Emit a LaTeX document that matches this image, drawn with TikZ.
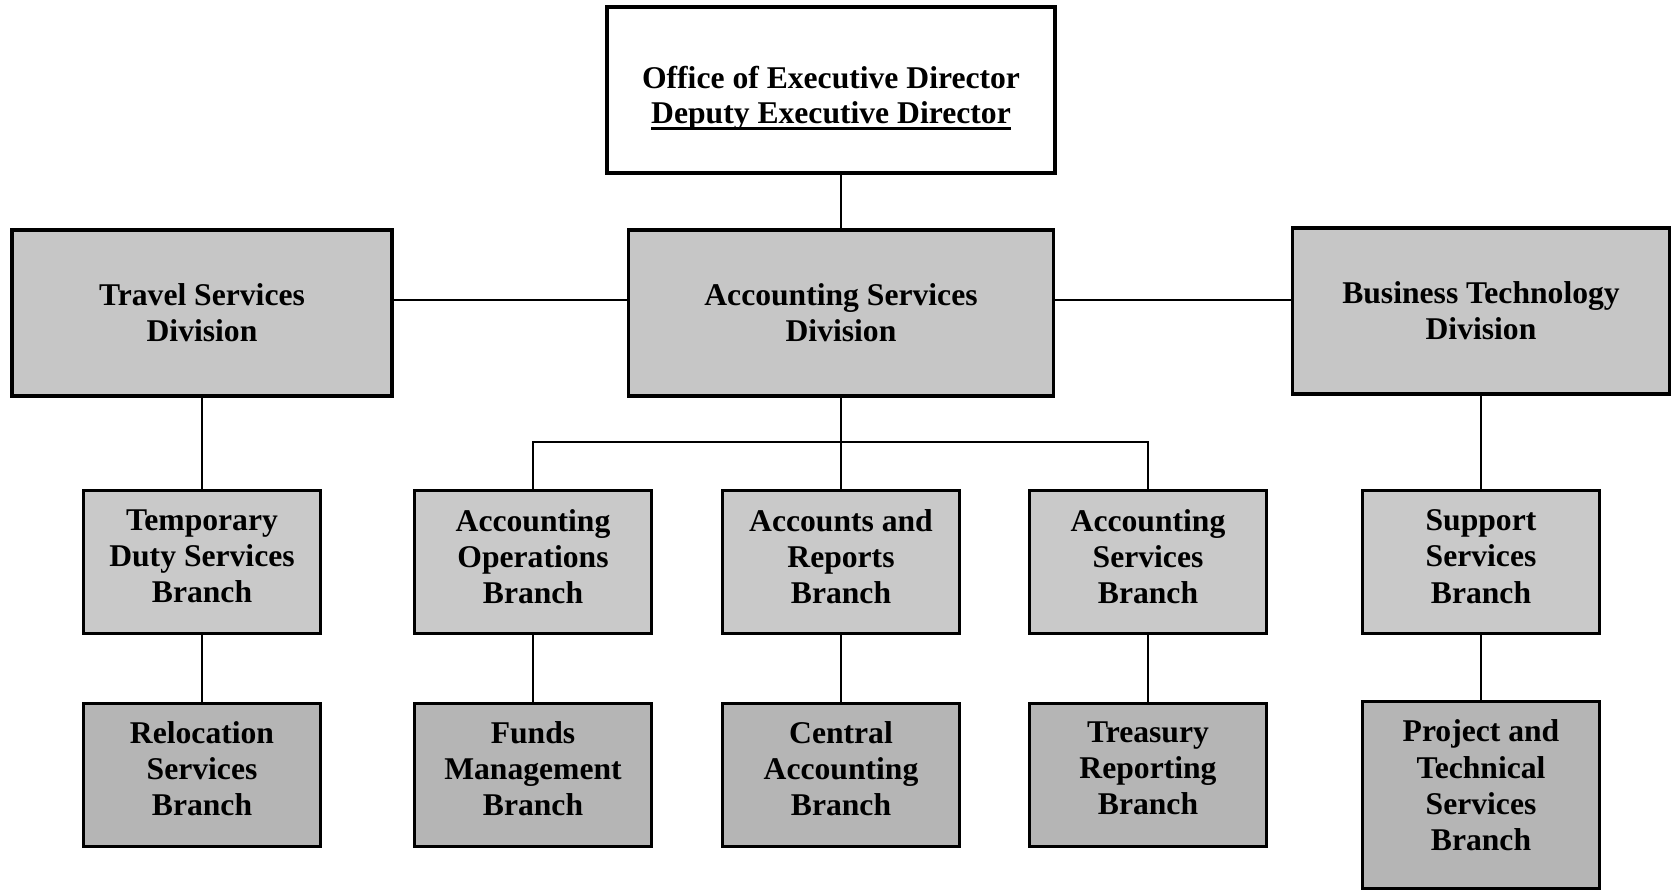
\documentclass[tikz,border=0pt]{standalone}
\usepackage{fontspec}
\setmainfont{Liberation Serif}
\usepackage{tikz}
\usetikzlibrary{positioning}
\newcommand\ulbar[1]{\setbox0\hbox{#1}\rlap{\rule[-1.8pt]{\wd0}{0.8pt}}\box0}

\begin{document}
\begin{tikzpicture}[
  box/.style={draw,line width=0.9pt,align=center,
    font=\bfseries\fontsize{9}{10.3}\selectfont},
  topbox/.style={box,fill=white,minimum width=4.48cm,minimum height=1.66cm,
    font=\bfseries\fontsize{9}{10}\selectfont,text height=21pt},
  divbox/.style={box,fill=gray!45,minimum height=1.66cm},
  branchbox/.style={box,fill=gray!42,minimum width=2.37cm,minimum height=1.43cm,text depth=3.2pt},
  subbox/.style={box,fill=gray!58,minimum width=2.37cm,minimum height=1.43cm,text depth=3.8pt},
  link/.style={line width=0.8pt}
]
\useasboundingbox (0,0) rectangle (16.71,8.90);

% Executive office
\node[topbox] (exec) at (8.31,8.00) {Office of Executive Director\\\ulbar{Deputy Executive Director}};

% Divisions
\node[divbox,minimum width=3.80cm] (travel) at (2.02,5.77) {Travel Services\\Division};
\node[divbox,minimum width=4.25cm] (acctdiv) at (8.41,5.77) {Accounting Services\\Division};
\node[divbox,minimum width=3.77cm] (biztech) at (14.81,5.79) {Business Technology\\Division};

% Branches - first row
\node[branchbox] (tdy) at (2.02,3.28) {Temporary\\Duty Services\\Branch};
\node[branchbox] (acctops) at (5.33,3.28) {Accounting\\Operations\\Branch};
\node[branchbox] (reports) at (8.41,3.28) {Accounts and\\Reports\\Branch};
\node[branchbox] (acctsvc) at (11.48,3.28) {Accounting\\Services\\Branch};
\node[branchbox] (support) at (14.81,3.28) {Support\\Services\\Branch};

% Branches - second row
\node[subbox] (reloc) at (2.02,1.15) {Relocation\\Services\\Branch};
\node[subbox] (funds) at (5.33,1.15) {Funds\\Management\\Branch};
\node[subbox] (central) at (8.41,1.15) {Central\\Accounting\\Branch};
\node[subbox] (treasury) at (11.48,1.15) {Treasury\\Reporting\\Branch};
\node[subbox,minimum height=1.87cm,text depth=5.6pt] (project) at (14.81,0.95) {Project and\\Technical\\Services\\Branch};

% Connection levels
\coordinate (lvl) at (0,5.90);
\coordinate (bus) at (0,4.48);

% Top connections
\draw[link] (acctdiv.north) -- (acctdiv.north |- exec.south);
\draw[link] (travel.east |- lvl) -- (acctdiv.west |- lvl);
\draw[link] (acctdiv.east |- lvl) -- (biztech.west |- lvl);

% Division to branch connections
\draw[link] (travel.south) -- (tdy.north);
\draw[link] (biztech.south) -- (support.north);
\draw[link] (acctdiv.south) -- (reports.north);
\draw[link] (acctops.north) -- (acctops.north |- bus) -- (acctsvc.north |- bus) -- (acctsvc.north);

% Branch to branch connections
\foreach \a/\b in {tdy/reloc,acctops/funds,reports/central,acctsvc/treasury,support/project}
  \draw[link] (\a.south) -- (\b.north);
\end{tikzpicture}
\end{document}
